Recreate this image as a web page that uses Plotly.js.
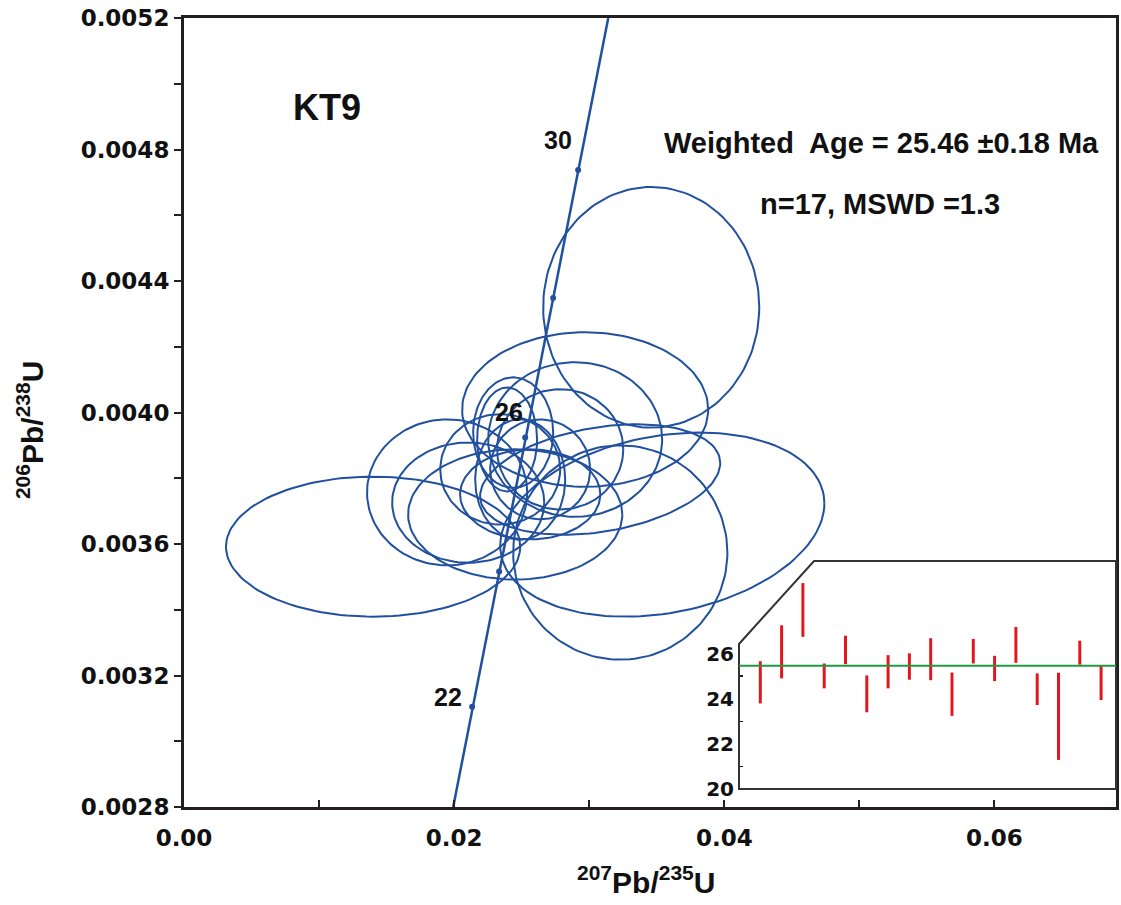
<!DOCTYPE html>
<html><head><meta charset="utf-8">
<script src="https://cdn.plot.ly/plotly-3.0.1.min.js"></script>
<style>body{margin:0;background:#fff}#chart{width:1121px;height:905px}</style>
</head><body><div id="chart"></div>
<script>
// ---- data ----
// error ellipses: centre, half-widths and correlation
const ellCx  = [0.01400,0.03459,0.02970,0.03541,0.03230,0.01948,0.02104,0.02452,0.02437,0.02392,0.02896,0.02785,0.02637,0.02489,0.02563,0.02341,0.03081];
const ellCy  = [0.003592,0.004320,0.004009,0.003659,0.003574,0.003757,0.003726,0.003690,0.003939,0.003918,0.003918,0.003888,0.003827,0.003796,0.003751,0.003827,0.003796];
const ellSx  = [0.01089,0.00800,0.00911,0.01200,0.00793,0.00593,0.00563,0.00793,0.00296,0.00222,0.00644,0.00467,0.00370,0.00333,0.00519,0.00444,0.00889];
const ellSy  = [0.000213,0.000366,0.000235,0.000280,0.000326,0.000222,0.000183,0.000198,0.000168,0.000158,0.000235,0.000183,0.000152,0.000183,0.000137,0.000168,0.000168];
const ellRho = [0,0,0,0.23,0,0,0,0,0,0,0,0,0,0,0,0,0.3];

// concordia
const concLineX = [0.01993,0.03141];
const concLineY = [0.0028,0.0052];
const concAges  = [22,24,26,28,30];
const concX     = [0.02133,0.02333,0.02526,0.02733,0.02918];
const concY     = [0.003105,0.003516,0.003924,0.004348,0.004738];
const concLabelAges = [22,26,30];

// weighted-mean inset
const spotIdx  = [1,2,3,4,5,6,7,8,9,10,11,12,13,14,15,16,17];
const ageHigh  = [25.66,27.25,29.12,25.56,26.79,25.03,25.93,26.01,26.68,25.16,26.65,25.90,27.18,25.12,25.15,26.57,25.44];
const ageLow   = [23.79,24.90,26.74,24.46,25.53,23.40,24.46,24.84,24.82,23.24,25.56,24.78,25.59,23.72,21.29,25.51,23.94];
const weightedAge = 25.46;

const xTickVals = [0,0.02,0.04,0.06];
const xTickText = ['0.00','0.02','0.04','0.06'];
const xMinorVals = [0.01,0.03,0.05];
const yTickVals = [0.0028,0.0032,0.0036,0.0040,0.0044,0.0048,0.0052];
const yTickText = ['0.0028','0.0032','0.0036','0.0040','0.0044','0.0048','0.0052'];
const yMinorVals = [0.0030,0.0034,0.0038,0.0042,0.0046,0.0050];
const insetTickVals = [20,22,24,26];
const insetTickText = ['20','22','24','26'];
const insetMinorVals = [21,23,25];

// ---- build ----
const BLUE = '#21509e', DARK = '#231f20';
const ex = [], ey = [];
const N = 140;
for (let k = 0; k < ellCx.length; k++) {
  const r = ellRho[k], q = Math.sqrt(1 - r*r);
  for (let i = 0; i <= N; i++) {
    const t = 2*Math.PI*i/N;
    ex.push(ellCx[k] + ellSx[k]*Math.cos(t));
    ey.push(ellCy[k] + ellSy[k]*(r*Math.cos(t) + q*Math.sin(t)));
  }
  ex.push(null); ey.push(null);
}

const traces = [
  {type:'scatter', mode:'lines', x:ex, y:ey, line:{color:BLUE, width:2}, hoverinfo:'skip'},
  {type:'scatter', mode:'lines', x:concLineX, y:concLineY, line:{color:BLUE, width:2.5}, hoverinfo:'skip'},
  {type:'scatter', mode:'markers', x:concX, y:concY, marker:{color:BLUE, size:6}, text:concAges.map(String), hoverinfo:'text'},
  {type:'bar', x:spotIdx, base:ageLow, y:ageHigh.map((h,i)=>h-ageLow[i]), width:0.14,
   marker:{color:'#e3161d', line:{width:0}}, xaxis:'x2', yaxis:'y2', hoverinfo:'skip'}
];

const FAM = 'Liberation Sans, Arial, sans-serif';
const annFont = {family:FAM, size:29, color:'#111', weight:'bold'};
const C = {showarrow:false, xanchor:'center', yanchor:'middle'};
const annotations = [
  Object.assign({xref:'paper', yref:'paper', x:0.1534, y:0.886, text:'KT9',
   font:{family:FAM, size:36, color:'#111', weight:'bold'}}, C),
  Object.assign({xref:'paper', yref:'paper', x:0.748, y:0.8416, text:'Weighted  Age = 25.46 \u00b10.18 Ma', font:annFont}, C),
  Object.assign({xref:'paper', yref:'paper', x:0.7468, y:0.7643, text:'n=17, MSWD =1.3', font:annFont}, C),
  Object.assign({xref:'paper', yref:'paper', x:0.4957, y:-0.0925, text:'<sup>207</sup>Pb/<sup>235</sup>U',
   font:{family:FAM, size:30, color:'#111', weight:'bold'}}, C),
  Object.assign({xref:'paper', yref:'paper', x:-0.165, y:0.478, textangle:-90, text:'<sup>206</sup>Pb/<sup>238</sup>U',
   font:{family:FAM, size:30, color:'#111', weight:'bold'}}, C)
];
const labelShift = {22:[-24,10], 26:[-16,25], 30:[-20,30]};
concLabelAges.forEach(a => {
  const i = concAges.indexOf(a);
  annotations.push(Object.assign({x:concX[i], y:concY[i], xref:'x', yref:'y', text:String(a),
    xshift:labelShift[a][0], yshift:labelShift[a][1],
    font:{family:FAM, size:25, color:'#111', weight:'bold'}}, C));
});

const tickFont = {family:'DejaVu Sans, sans-serif', size:23, color:'#111', weight:'bold'};
const layout = {
  width:1121, height:905,
  margin:{l:184, r:5, t:18, b:98},
  paper_bgcolor:'#fff', plot_bgcolor:'rgba(0,0,0,0)',
  showlegend:false,
  xaxis:{range:[0,0.069], domain:[0,1], tickmode:'array', tickvals:xTickVals, ticktext:xTickText, ticks:'inside', ticklen:7, tickwidth:2,
    tickcolor:DARK, minor:{tickmode:'array', tickvals:xMinorVals, ticks:'inside', ticklen:7, tickwidth:2, tickcolor:DARK},
    showline:true, linewidth:3, linecolor:DARK, mirror:true, showgrid:false, zeroline:false,
    tickfont:tickFont, ticklabelstandoff:8},
  yaxis:{range:[0.0028,0.0052], domain:[0,1], tickmode:'array', tickvals:yTickVals, ticktext:yTickText, ticks:'outside', ticklen:7, tickwidth:2,
    tickcolor:DARK, minor:{tickmode:'array', tickvals:yMinorVals, ticks:'outside', ticklen:7, tickwidth:2, tickcolor:DARK},
    showline:true, linewidth:3, linecolor:DARK, mirror:true, showgrid:false, zeroline:false,
    tickfont:tickFont},
  xaxis2:{domain:[0.5955,1], anchor:'y2', range:[0,17.7], showticklabels:false, ticks:'', showline:false, showgrid:false, zeroline:false},
  yaxis2:{domain:[0.0228,0.3118], anchor:'x2', range:[20,30.1], tickmode:'array', tickvals:insetTickVals, ticktext:insetTickText,
    ticks:'', minor:{tickmode:'array', tickvals:insetMinorVals, ticks:'inside', ticklen:4, tickwidth:1.5, tickcolor:DARK},
    showline:false, showgrid:false, zeroline:false, ticklabelstandoff:4,
    tickfont:{family:'DejaVu Sans, sans-serif', size:20, color:'#111', weight:'bold'}},
  shapes:[
    {type:'path', xref:'paper', yref:'paper', path:'M 0.5955 0.0228 L 0.5955 0.2066 L 0.676 0.3118 L 1.0 0.3118 L 1.0 0.0228 Z',
     line:{color:'#333', width:2}, fillcolor:'rgba(0,0,0,0)', layer:'above'},
    {type:'line', xref:'x2 domain', yref:'y2', x0:0, x1:1, y0:weightedAge, y1:weightedAge, line:{color:'#1f9a3c', width:2}}
  ],
  annotations:annotations
};
Plotly.newPlot('chart', traces, layout, {displayModeBar:false, staticPlot:true});
</script></body></html>
